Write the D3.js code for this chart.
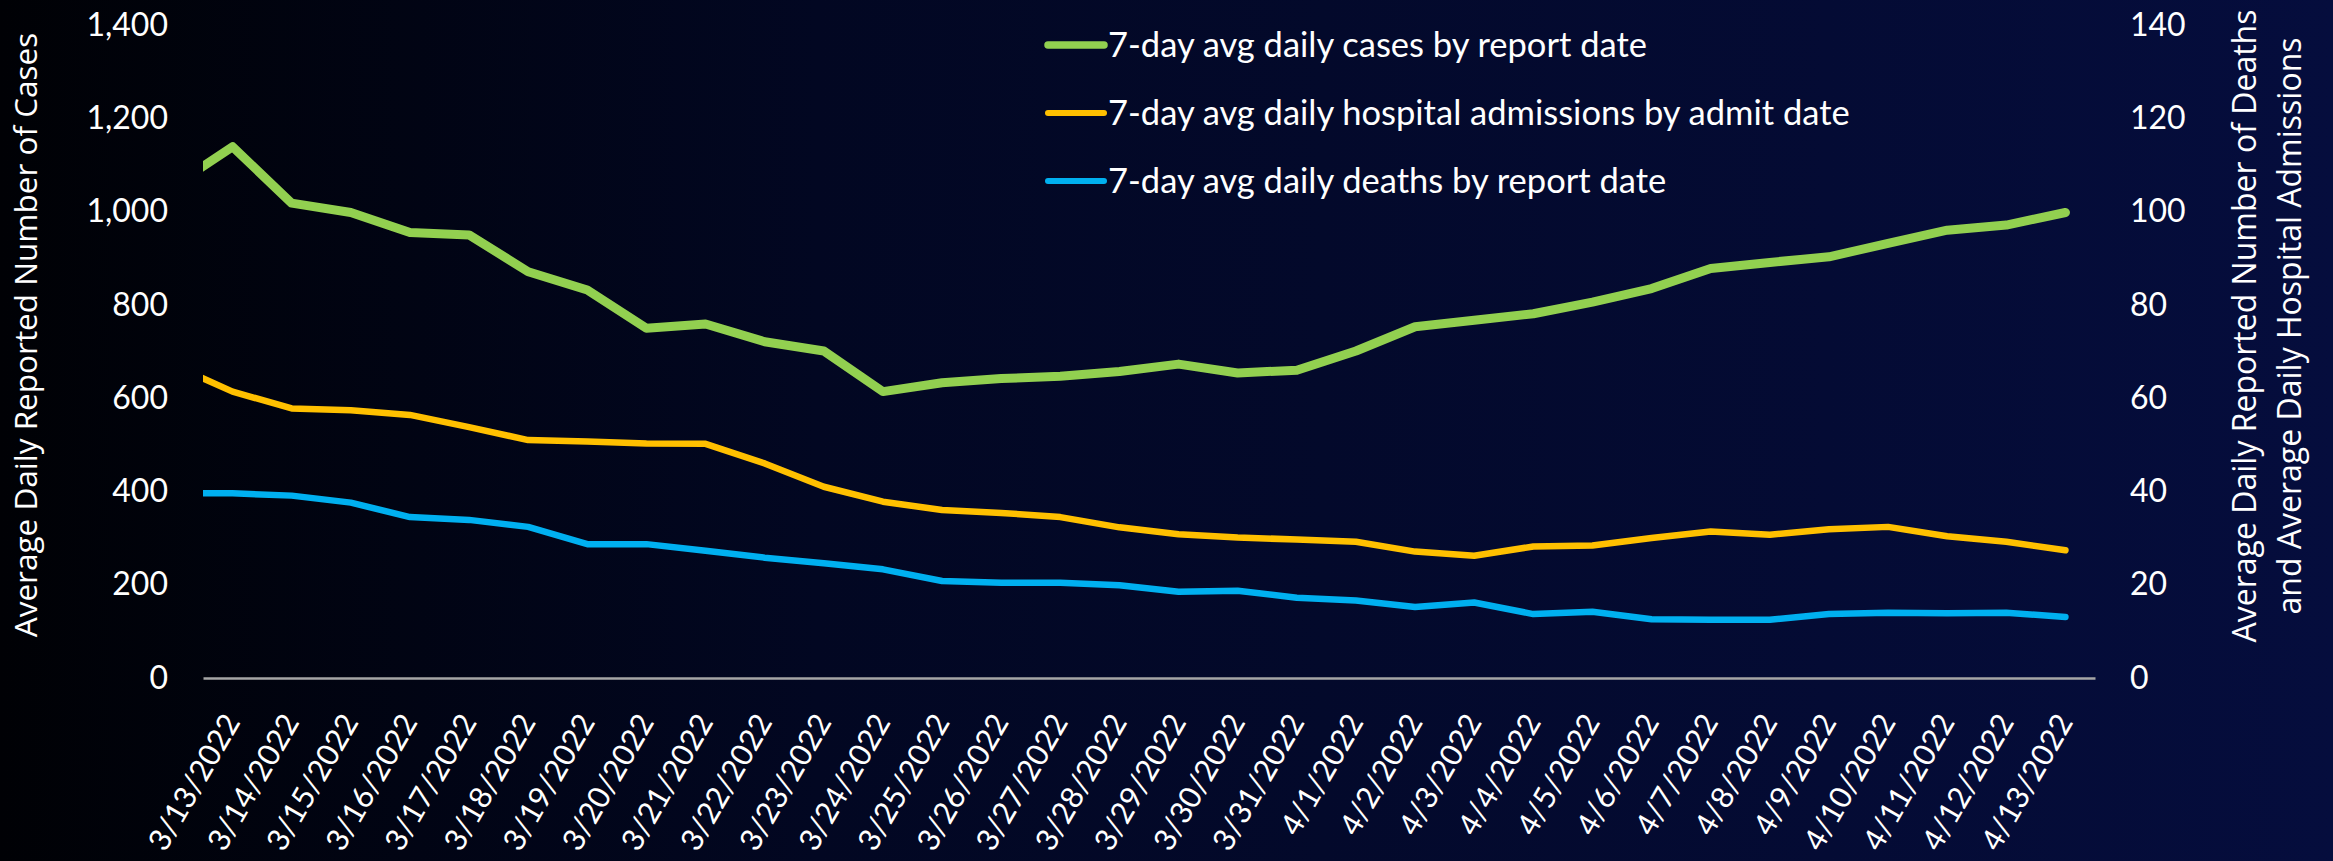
<!DOCTYPE html>
<html>
<head>
<meta charset="utf-8">
<script src="https://cdn.jsdelivr.net/npm/d3@7"></script>
<style>
  html, body { margin: 0; padding: 0; background: #000; }
  svg { display: block; }
</style>
</head>
<body>
<svg width="2333" height="861"></svg>
<script>
// categories
var dates = ["3/13/2022", "3/14/2022", "3/15/2022", "3/16/2022", "3/17/2022", "3/18/2022",
  "3/19/2022", "3/20/2022", "3/21/2022", "3/22/2022", "3/23/2022", "3/24/2022", "3/25/2022",
  "3/26/2022", "3/27/2022", "3/28/2022", "3/29/2022", "3/30/2022", "3/31/2022", "4/1/2022",
  "4/2/2022", "4/3/2022", "4/4/2022", "4/5/2022", "4/6/2022", "4/7/2022", "4/8/2022",
  "4/9/2022", "4/10/2022", "4/11/2022", "4/12/2022", "4/13/2022"];

// series (cases on left axis, admissions + deaths on right axis)
var cases = [1139, 1018, 998, 955, 950, 871, 832, 750, 759, 721, 701, 614, 633, 642, 647, 657,
  673, 654, 660, 701, 753, 767, 781, 806, 835, 878, 891, 903, 932, 960, 971, 998];
var admissions = [61.4, 57.8, 57.4, 56.4, 53.8, 51.0, 50.7, 50.3, 50.2, 46.0, 41.0, 37.8, 36.0,
  35.4, 34.5, 32.3, 30.8, 30.1, 29.7, 29.2, 27.1, 26.2, 28.2, 28.4, 30.0, 31.4, 30.7, 31.9,
  32.4, 30.4, 29.2, 27.4];
var deaths = [39.6, 39.1, 37.6, 34.5, 33.9, 32.4, 28.7, 28.7, 27.3, 25.8, 24.6, 23.3, 20.8,
  20.4, 20.4, 19.9, 18.5, 18.7, 17.2, 16.6, 15.2, 16.2, 13.7, 14.2, 12.6, 12.5, 12.5, 13.7,
  14.0, 13.9, 14.0, 13.1];

// values for 3/12, the day before the axis starts (line runs off the left edge)
var priorCases = 1055, priorAdmissions = 67.1, priorDeaths = 39.6;

var leftTicks = [0, 200, 400, 600, 800, 1000, 1200, 1400];
var rightTicks = [0, 20, 40, 60, 80, 100, 120, 140];

var seriesNames = ["7-day avg daily cases by report date",
  "7-day avg daily hospital admissions by admit date",
  "7-day avg daily deaths by report date"];
var seriesColors = ["#92D050", "#FFC000", "#00B0F0"];

var svg = d3.select("svg"),
  width = +svg.attr("width"),
  height = +svg.attr("height");

var plot = {left: 203, right: 2095, top: 25, bottom: 678};
var labelFont = "Lato, 'Open Sans', sans-serif";
var titleFont = "'Open Sans', 'Noto Sans', sans-serif";

// background
var grad = svg.append("defs").append("linearGradient")
  .attr("id", "bg")
  .attr("x1", "0%").attr("x2", "100%").attr("y1", "0%").attr("y2", "0%");
grad.append("stop").attr("offset", "0%").attr("stop-color", "#000105");
grad.append("stop").attr("offset", "35%").attr("stop-color", "#020722");
grad.append("stop").attr("offset", "100%").attr("stop-color", "#050d3d");

svg.select("defs").append("clipPath").attr("id", "plotclip")
  .append("rect")
  .attr("x", plot.left).attr("y", 0)
  .attr("width", plot.right - plot.left).attr("height", height);

svg.append("rect")
  .attr("width", width).attr("height", height)
  .attr("fill", "url(#bg)");

var x = d3.scalePoint()
  .domain(dates)
  .range([plot.left, plot.right])
  .padding(0.5);

var yLeft = d3.scaleLinear().domain([0, 1400]).range([plot.bottom, plot.top]);
var yRight = d3.scaleLinear().domain([0, 140]).range([plot.bottom, plot.top]);

// axes
var gLeft = svg.append("g")
  .attr("transform", "translate(" + plot.left + ",0)")
  .call(d3.axisLeft(yLeft).tickValues(leftTicks).tickSize(0).tickPadding(35)
    .tickFormat(d3.format(",")));
gLeft.select(".domain").remove();

var gRight = svg.append("g")
  .attr("transform", "translate(" + plot.right + ",0)")
  .call(d3.axisRight(yRight).tickValues(rightTicks).tickSize(0).tickPadding(35));
gRight.select(".domain").remove();

svg.selectAll(".tick text")
  .attr("fill", "#ffffff")
  .style("font-family", labelFont)
  .style("font-size", "32px");

var gBottom = svg.append("g")
  .attr("transform", "translate(0," + plot.bottom + ")")
  .call(d3.axisBottom(x).tickSize(0).tickSizeOuter(0));
gBottom.select(".domain")
  .attr("stroke", "#a6a6a6")
  .attr("stroke-width", 2.5);
gBottom.selectAll(".tick text")
  .attr("text-anchor", "end")
  .attr("dy", 0)
  .attr("y", 0)
  .attr("fill", "#ffffff")
  .style("font-family", labelFont)
  .style("font-size", "30.5px")
  .attr("transform", "translate(8,44) rotate(-60)");

// lines
function withPrior(prior, values, scale) {
  var pts = [[x(dates[0]) - x.step(), scale(prior)]];
  values.forEach(function(v, i) {
    pts.push([x(dates[i]), scale(v)]);
  });
  return pts;
}

var line = d3.line();
var lines = svg.append("g").attr("clip-path", "url(#plotclip)");

lines.append("path")
  .attr("d", line(withPrior(priorDeaths, deaths, yRight)))
  .attr("fill", "none")
  .attr("stroke", seriesColors[2])
  .attr("stroke-width", 6.5)
  .attr("stroke-linejoin", "round")
  .attr("stroke-linecap", "round");

lines.append("path")
  .attr("d", line(withPrior(priorAdmissions, admissions, yRight)))
  .attr("fill", "none")
  .attr("stroke", seriesColors[1])
  .attr("stroke-width", 6.5)
  .attr("stroke-linejoin", "round")
  .attr("stroke-linecap", "round");

lines.append("path")
  .attr("d", line(withPrior(priorCases, cases, yLeft)))
  .attr("fill", "none")
  .attr("stroke", seriesColors[0])
  .attr("stroke-width", 9)
  .attr("stroke-linejoin", "round")
  .attr("stroke-linecap", "round");

// legend
var legend = svg.append("g").attr("transform", "translate(1048,45)");
var item = legend.selectAll("g")
  .data(seriesNames)
  .enter().append("g")
  .attr("transform", function(d, i) { return "translate(0," + i * 68 + ")"; });

item.append("line")
  .attr("x1", 0).attr("x2", 56)
  .attr("stroke", function(d, i) { return seriesColors[i]; })
  .attr("stroke-width", function(d, i) { return i == 0 ? 7.5 : 6; })
  .attr("stroke-linecap", "round");

item.append("text")
  .attr("x", 60)
  .attr("dy", "0.35em")
  .attr("fill", "#ffffff")
  .style("font-family", labelFont)
  .style("font-size", "34.5px")
  .text(function(d) { return d; });

// axis titles
svg.append("text")
  .attr("transform", "translate(37,335) rotate(-90)")
  .attr("text-anchor", "middle")
  .attr("fill", "#ffffff")
  .style("font-family", titleFont)
  .style("font-size", "31.5px")
  .text("Average Daily Reported Number of Cases");

var rightTitle = ["Average Daily Reported Number of Deaths", "and Average Daily Hospital Admissions"];
svg.append("g").selectAll("text")
  .data(rightTitle)
  .enter().append("text")
  .attr("transform", function(d, i) { return "translate(" + (2256 + i * 45) + ",326) rotate(-90)"; })
  .attr("text-anchor", "middle")
  .attr("fill", "#ffffff")
  .style("font-family", titleFont)
  .style("font-size", "32px")
  .text(function(d) { return d; });
</script>
</body>
</html>
